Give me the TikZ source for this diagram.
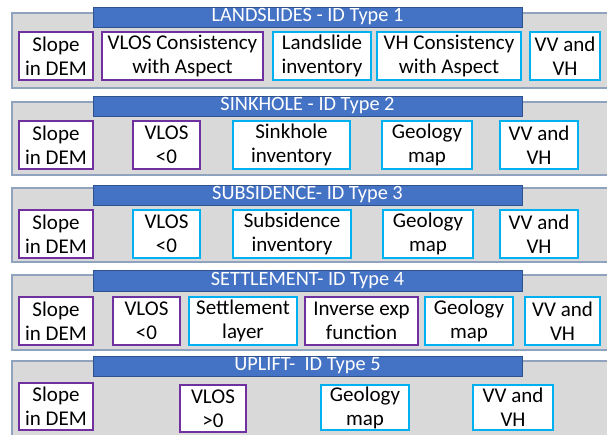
\documentclass[tikz,border=0pt]{standalone}
\usepackage{fontspec}
\setmainfont{Carlito}
\definecolor{panelfill}{HTML}{D9D9D9}
\definecolor{paneledge}{HTML}{8FA2BE}
\definecolor{headfill}{HTML}{4472C4}
\definecolor{headedge}{HTML}{2F528F}
\definecolor{purp}{HTML}{7030A0}
\definecolor{cyanb}{HTML}{00B0F0}
\tikzset{
  panel/.style={fill=panelfill, draw=paneledge, line width=1.2pt},
  header/.style={fill=headfill, draw=headedge, line width=0.6pt, text=white, inner sep=0pt,
    font=\fontsize{20.3}{22}\selectfont},
  boxbase/.style={fill=white, line width=1.8pt, align=center, inner sep=0.5pt,
    font=\fontsize{21}{24}\selectfont},
  pbox/.style={boxbase, draw=purp},
  cbox/.style={boxbase, draw=cyanb},
}
\newcommand{\mybox}[7]{%
  \pgfmathsetmacro\bxcx{(#3+#5)/2}\pgfmathsetmacro\bxcy{(#4+#6)/2}%
  \pgfmathsetmacro\bxww{#5-#3}\pgfmathsetmacro\bxhh{#6-#4}%
  \node[#2, minimum width=\bxww pt, minimum height=\bxhh pt] (#1) at (\bxcx,\bxcy) {#7};}
\begin{document}
\begin{tikzpicture}[x=1pt,y=-1pt]
\clip (0,0) rectangle (607,435);
\fill[white] (0,0) rectangle (607,435);
% panels
\draw[panel] (12,13) rectangle (612,88);
\draw[panel] (12,102) rectangle (612,175);
\draw[panel] (12,188) rectangle (612,262);
\draw[panel] (12,275) rectangle (612,350);
\draw[panel] (12,361) rectangle (612,440);
% headers
\mybox{h1}{header}{93}{7}{522}{27}{LANDSLIDES - ID Type 1}
\mybox{h2}{header}{93}{96}{522}{116}{SINKHOLE - ID Type 2}
\mybox{h3}{header}{93}{185}{522}{205}{SUBSIDENCE- ID Type 3}
\mybox{h4}{header}{93}{270}{522}{291}{SETTLEMENT- ID Type 4}
\mybox{h5}{header}{93}{356}{522}{376}{UPLIFT-\ \ ID Type 5}
% row 1
\mybox{a1}{pbox}{19}{32}{93}{80}{Slope\\in DEM}
\mybox{a2}{pbox}{102}{32}{263}{80}{VLOS Consistency\\with Aspect}
\mybox{a3}{cbox}{273}{32}{371}{80}{Landslide\\inventory}
\mybox{a4}{cbox}{377}{32}{521}{80}{VH Consistency\\with Aspect}
\mybox{a5}{cbox}{530}{32}{600}{80}{VV and\\VH}
% row 2
\mybox{b1}{pbox}{19}{121}{93}{169}{Slope\\in DEM}
\mybox{b2}{pbox}{133}{121}{200}{169}{VLOS\\<0}
\mybox{b3}{cbox}{233}{121}{350}{169}{Sinkhole\\inventory}
\mybox{b4}{cbox}{382}{121}{472}{169}{Geology\\map}
\mybox{b5}{cbox}{500}{121}{578}{169}{VV and\\VH}
% row 3
\mybox{c1}{pbox}{19}{210}{93}{258}{Slope\\in DEM}
\mybox{c2}{cbox}{133}{210}{200}{258}{VLOS\\<0}
\mybox{c3}{cbox}{233}{210}{351}{258}{Subsidence\\inventory}
\mybox{c4}{cbox}{383}{210}{473}{258}{Geology\\map}
\mybox{c5}{cbox}{500}{210}{578}{258}{VV and\\VH}
% row 4
\mybox{d1}{pbox}{19}{297}{93}{345}{Slope\\in DEM}
\mybox{d2}{pbox}{113}{297}{180}{345}{VLOS\\<0}
\mybox{d3}{cbox}{189}{297}{297}{345}{Settlement\\layer}
\mybox{d4}{pbox}{305}{297}{418}{345}{Inverse exp\\function}
\mybox{d5}{cbox}{425}{297}{513}{345}{Geology\\map}
\mybox{d6}{cbox}{525}{297}{600}{345}{VV and\\VH}
% row 5
\mybox{e1}{pbox}{19}{383}{93}{430}{Slope\\in DEM}
\mybox{e2}{pbox}{180}{385}{246}{432}{VLOS\\>0}
\mybox{e3}{cbox}{321}{385}{409}{430}{Geology\\map}
\mybox{e4}{cbox}{473}{385}{553}{430}{VV and\\VH}
\end{tikzpicture}
\end{document}
